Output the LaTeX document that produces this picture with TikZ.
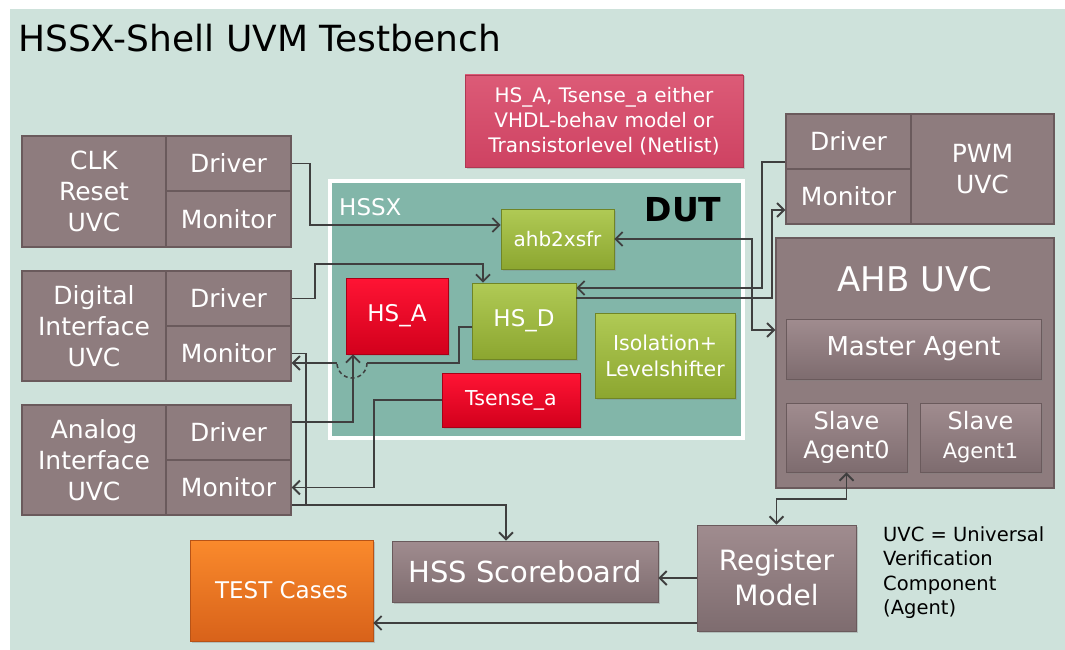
\documentclass[tikz,border=0pt]{standalone}
\usepackage{fontspec}
\setmainfont{DejaVu Sans}
\usetikzlibrary{arrows.meta,shadows}
\newcommand{\setfs}[2]{\fontsize{#1}{#2}\selectfont}
\definecolor{panel}{HTML}{CEE2DB}
\definecolor{teal}{HTML}{82B6A9}
\definecolor{boxgrey}{HTML}{8E7C7E}
\definecolor{boxline}{HTML}{6A5A5C}
\definecolor{agtop}{HTML}{A08C8F}
\definecolor{agbot}{HTML}{7E6C6F}
\definecolor{redtop}{HTML}{FF1434}
\definecolor{redbot}{HTML}{D2001C}
\definecolor{grntop}{HTML}{B0CA55}
\definecolor{grnbot}{HTML}{8CA630}
\definecolor{orgtop}{HTML}{FA8A2C}
\definecolor{orgbot}{HTML}{D8621A}
\definecolor{pinktop}{HTML}{DC5B77}
\definecolor{pinkbot}{HTML}{CE4262}
\definecolor{wire}{HTML}{3F3F3F}
\tikzset{
  every node/.style={inner sep=0pt, align=center, text=white},
  uvcbox/.style={draw=boxline, fill=boxgrey, line width=1.2pt, font=\setfs{25}{31}},
  agentbox/.style={draw=boxline, line width=0.8pt, top color=agtop, bottom color=agbot,
    drop shadow={opacity=0.35, shadow xshift=1.5pt, shadow yshift=-1.5pt}},
  redbox/.style={draw=redbot!80!black, line width=0.6pt, top color=redtop, bottom color=redbot,
    drop shadow={opacity=0.3, shadow xshift=1.5pt, shadow yshift=-1.5pt}},
  greenbox/.style={draw=grnbot!80!black, line width=0.6pt, top color=grntop, bottom color=grnbot,
    drop shadow={opacity=0.3, shadow xshift=1.5pt, shadow yshift=-1.5pt}},
  conn/.style={draw=wire, line width=1.9pt, >={Straight Barb[length=7pt,width=14pt]}},
  hop/.style={draw=wire, line width=1.5pt, dash pattern=on 4pt off 3pt},
}
\begin{document}
\begin{tikzpicture}[x=1pt,y=-1pt]
\useasboundingbox (0,0) rectangle (1065,650);
\fill[white] (0,0) rectangle (1065,650);
\fill[panel] (10,9) rectangle (1065,650);

% title
\node[anchor=base west, text=black, font=\setfs{36}{40}] (title) at (18,52) {HSSX-Shell UVM Testbench};

% note on the analog models
\node[draw=pinkbot!85!black, line width=0.6pt, top color=pinktop, bottom color=pinkbot,
  minimum width=278pt, minimum height=92pt, font=\setfs{20}{25},
  drop shadow={opacity=0.3, shadow xshift=1.5pt, shadow yshift=-1.5pt}]
  (note) at (604,121) {HS\_A, Tsense\_a either\\VHDL-behav model or\\Transistorlevel (Netlist)};

% clock / reset UVC
\node[uvcbox, minimum width=144pt, minimum height=111pt] (clkuvc) at (94,191.5) {CLK\\Reset\\UVC};
\node[uvcbox, minimum width=125pt, minimum height=55pt] (clkdrv) at (228.5,163.5) {Driver};
\node[uvcbox, minimum width=125pt, minimum height=56pt] (clkmon) at (228.5,219) {Monitor};

% digital interface UVC
\node[uvcbox, minimum width=144pt, minimum height=110pt] (diguvc) at (94,326) {Digital\\Interface\\UVC};
\node[uvcbox, minimum width=125pt, minimum height=55pt] (digdrv) at (228.5,298.5) {Driver};
\node[uvcbox, minimum width=125pt, minimum height=55pt] (digmon) at (228.5,353.5) {Monitor};

% analog interface UVC
\node[uvcbox, minimum width=144pt, minimum height=110pt] (anauvc) at (94,460) {Analog\\Interface\\UVC};
\node[uvcbox, minimum width=125pt, minimum height=55pt] (anadrv) at (228.5,432.5) {Driver};
\node[uvcbox, minimum width=125pt, minimum height=55pt] (anamon) at (228.5,487.5) {Monitor};

% PWM UVC
\node[uvcbox, minimum width=125pt, minimum height=55pt] (pwmdrv) at (848.5,141.5) {Driver};
\node[uvcbox, minimum width=125pt, minimum height=55pt] (pwmmon) at (848.5,196.5) {Monitor};
\node[uvcbox, minimum width=143pt, minimum height=110pt] (pwmuvc) at (982.5,169) {PWM\\UVC};

% AHB UVC with its agents
\node[uvcbox, minimum width=278pt, minimum height=250pt] (ahbuvc) at (915,363) {};
\node[font=\setfs{34}{40}] (ahbtitle) at (915,279) {AHB UVC};
\node[agentbox, minimum width=255pt, minimum height=60pt, font=\setfs{26}{30}] (master) at (913.5,349) {Master Agent};
\node[agentbox, minimum width=121pt, minimum height=69pt, font=\setfs{24}{29}] (slave0) at (846.5,437.5) {Slave\\Agent0};
\node[agentbox, minimum width=121pt, minimum height=69pt, font=\setfs{24}{29}] (slave1) at (980.5,437.5) {Slave\\{\setfs{21}{26}Agent1}};

% device under test
\draw[white, line width=4pt, fill=teal] (330,181) rectangle (743,438);
\node[anchor=west, font=\setfs{23}{26}] (hssx) at (339,207) {HSSX};
\node[text=black, font=\setfs{33}{36}\bfseries] (dut) at (683,210) {DUT};
\node[greenbox, minimum width=113pt, minimum height=60pt, font=\setfs{20}{22}] (ahb) at (557.5,239) {ahb2xsfr};
\node[redbox, minimum width=102pt, minimum height=76pt, font=\setfs{23}{26}] (hsa) at (397,316) {HS\_A};
\node[greenbox, minimum width=104pt, minimum height=76pt, font=\setfs{23}{26}] (hsd) at (524,321) {HS\_D};
\node[greenbox, minimum width=140pt, minimum height=85pt, font=\setfs{20.5}{26}] (iso) at (665,355.5) {Isolation+\\Levelshifter};
\node[redbox, minimum width=138pt, minimum height=54pt, font=\setfs{20.5}{24}] (tsense) at (511,400) {Tsense\_a};

% scoreboard, register model and test cases
\node[draw=orgbot!85!black, line width=0.6pt, top color=orgtop, bottom color=orgbot,
  minimum width=183pt, minimum height=101pt, font=\setfs{23}{26},
  drop shadow={opacity=0.35, shadow xshift=2pt, shadow yshift=-2pt}] (test) at (281.5,590.5) {TEST Cases};
\node[agentbox, minimum width=266pt, minimum height=61pt, font=\setfs{29}{34}] (hss) at (525,571.5) {HSS Scoreboard};
\node[agentbox, minimum width=159pt, minimum height=106pt, font=\setfs{28}{35}] (reg) at (776.5,578) {Register\\Model};

% legend
\node[anchor=north west, align=left, text=black, font=\setfs{19.5}{24.5}] (legend) at (883,526)
  {UVC = Universal\\Verification\\Component\\(Agent)};

% connections
\draw[conn,->] (clkdrv.east) -| (310,225) -- ([yshift=14pt]ahb.west);
\draw[conn,->] (digdrv.east) -| (315,264) -| ([xshift=-41pt]hsd.north);
\draw[conn] ([yshift=-6pt]hsd.west) -| (459,363) -- (367,363);
\draw[hop] (367,363) arc[start angle=0, end angle=180, radius=15];
\draw[conn,->] (337,363) -- ([yshift=-9.5pt]digmon.east);
\draw[conn,->] ([yshift=10.5pt]anadrv.east) -| ([xshift=-44pt]hsa.south);
\draw[conn,->] (tsense.west) -| (374,487.5) -- (anamon.east);
\draw[conn,->] (digmon.east) -| (306,505) -| ([xshift=-19pt]hss.north);
\draw[conn] ([yshift=-17.5pt]anamon.east) -- (306,505);
\draw[conn,<->] (ahb.east) -| (752,330) -- ([yshift=33pt]ahbuvc.west);
\draw[conn,->] ([yshift=-20.5pt]pwmdrv.west) -| (762,288) -- ([yshift=33pt]hsd.east);
\draw[conn,->] ([yshift=23pt]hsd.east) -| (772,210) -- ([yshift=-13.5pt]pwmmon.west);
\draw[conn,<->] (slave0.south) |- ([yshift=26pt]reg.north) -- (reg.north);
\draw[conn,->] (reg.west) -- ([yshift=-6.5pt]hss.east);
\draw[conn,->] ([yshift=-45pt]reg.west) -- ([yshift=-32.5pt]test.east);
\end{tikzpicture}
\end{document}
